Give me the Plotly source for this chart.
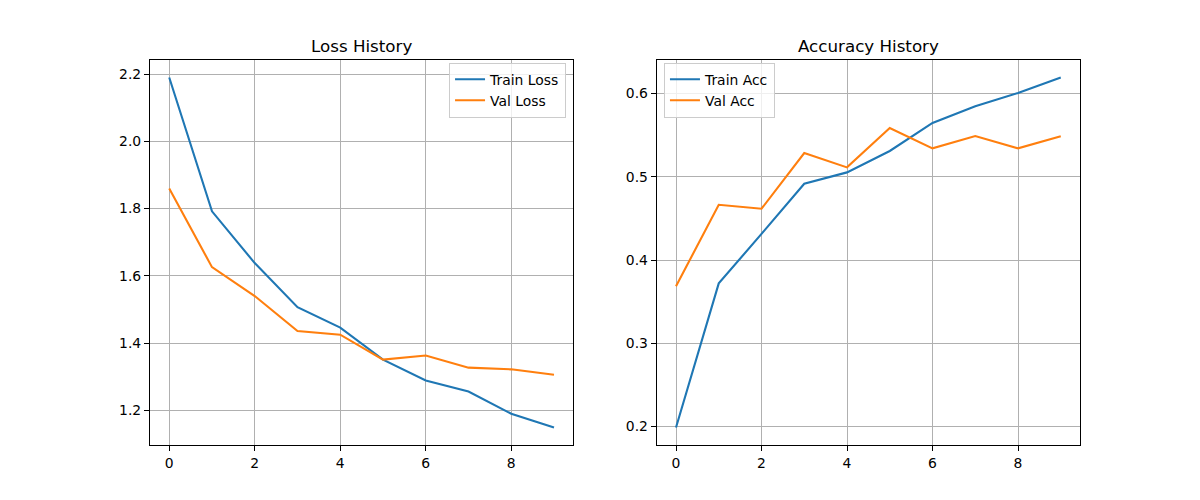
import plotly.graph_objects as go

epochs = list(range(10))
train_loss = [2.190, 1.792, 1.638, 1.507, 1.446, 1.351, 1.289, 1.256, 1.190, 1.149]
val_loss = [1.860, 1.626, 1.540, 1.436, 1.425, 1.351, 1.363, 1.327, 1.322, 1.306]
train_acc = [0.1988, 0.372, 0.4314, 0.4917, 0.5053, 0.531, 0.5647, 0.5848, 0.6008, 0.6193]
val_acc = [0.3685, 0.4664, 0.4616, 0.5286, 0.5113, 0.5587, 0.5342, 0.549, 0.5342, 0.5486]

BLUE = "#1f77b4"
ORANGE = "#ff7f0e"
FONT = "DejaVu Sans"

fig = go.Figure()
fig.add_trace(go.Scatter(x=epochs, y=train_loss, mode="lines", name="Train Loss",
                         line=dict(color=BLUE, width=2.1), xaxis="x", yaxis="y", legend="legend"))
fig.add_trace(go.Scatter(x=epochs, y=val_loss, mode="lines", name="Val Loss",
                         line=dict(color=ORANGE, width=2.1), xaxis="x", yaxis="y", legend="legend"))
fig.add_trace(go.Scatter(x=epochs, y=train_acc, mode="lines", name="Train Acc",
                         line=dict(color=BLUE, width=2.1), xaxis="x2", yaxis="y2", legend="legend2"))
fig.add_trace(go.Scatter(x=epochs, y=val_acc, mode="lines", name="Val Acc",
                         line=dict(color=ORANGE, width=2.1), xaxis="x2", yaxis="y2", legend="legend2"))

def padded(vals):
    lo, hi = min(vals), max(vals)
    m = (hi - lo) * 0.05
    return [lo - m, hi + m]

axis_common = dict(showline=True, mirror=True, linecolor="black", linewidth=1.1,
                   ticks="outside", ticklen=5, tickwidth=1.1, tickcolor="black",
                   showgrid=True, gridcolor="#b0b0b0", gridwidth=1.1, zeroline=False,
                   tickfont=dict(family=FONT, size=13.9, color="black"))

loss_all = train_loss + val_loss
acc_all = train_acc + val_acc

fig.update_layout(
    width=1200, height=500,
    margin=dict(l=0, r=0, t=0, b=0),
    paper_bgcolor="white", plot_bgcolor="white",
    font=dict(family=FONT, color="black"),
    xaxis=dict(domain=[0.125, 0.4777], range=padded(epochs), dtick=2, tick0=0, anchor="y", **axis_common),
    yaxis=dict(domain=[0.11, 0.88], range=padded(loss_all), dtick=0.2, tick0=0, tickformat=".1f", anchor="x", **axis_common),
    xaxis2=dict(domain=[0.5473, 0.9], range=padded(epochs), dtick=2, tick0=0, anchor="y2", **axis_common),
    yaxis2=dict(domain=[0.11, 0.88], range=padded(acc_all), dtick=0.1, tick0=0, tickformat=".1f", anchor="x2", **axis_common),
    legend=dict(x=0.4717, xanchor="right", y=0.8746, yanchor="top",
                bgcolor="rgba(255,255,255,0.8)", bordercolor="#cccccc", borderwidth=1,
                font=dict(family=FONT, size=13.9, color="black"), tracegroupgap=0, itemwidth=30),
    legend2=dict(x=0.5533, xanchor="left", y=0.8746, yanchor="top",
                 bgcolor="rgba(255,255,255,0.8)", bordercolor="#cccccc", borderwidth=1,
                 font=dict(family=FONT, size=13.9, color="black"), tracegroupgap=0, itemwidth=30),
    annotations=[
        dict(text="Loss History", x=(0.125 + 0.4777) / 2, y=1 - 46 / 500, xref="paper", yref="paper",
             xanchor="center", yanchor="middle", showarrow=False, font=dict(family=FONT, size=16.7, color="black")),
        dict(text="Accuracy History", x=(0.5473 + 0.9) / 2, y=1 - 46 / 500, xref="paper", yref="paper",
             xanchor="center", yanchor="middle", showarrow=False, font=dict(family=FONT, size=16.7, color="black")),
    ],
)

fig.write_html("out.html")
